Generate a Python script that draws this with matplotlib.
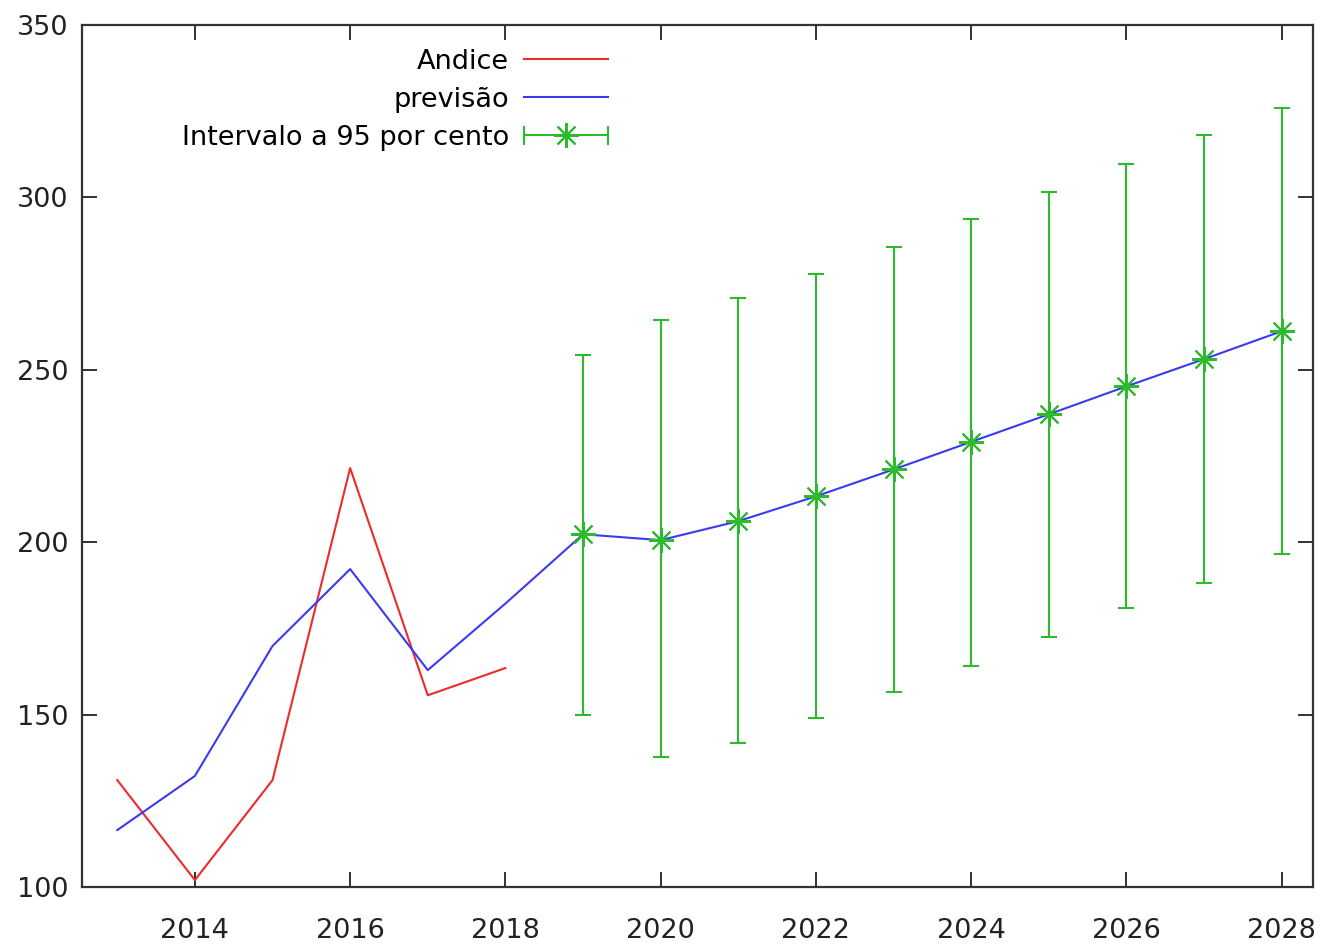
import matplotlib
matplotlib.use("Agg")
import matplotlib.pyplot as plt
import numpy as np
from matplotlib.lines import Line2D
from matplotlib.legend_handler import HandlerBase

years_obs = [2013, 2014, 2015, 2016, 2017, 2018]
andice = [131.0, 102.0, 131.0, 221.5, 155.6, 163.5]

years_prev = list(range(2013, 2029))
previsao = [116.5, 132.2, 169.9, 192.2, 162.9, 182.2, 202.3, 200.6,
            206.1, 213.3, 221.1, 229.1, 237.1, 245.2, 253.1, 261.2]

years_fc = list(range(2019, 2029))
fc_center = [202.3, 200.6, 206.1, 213.3, 221.1, 229.1, 237.1, 245.2, 253.1, 261.2]
fc_low = [149.9, 137.6, 141.7, 149.0, 156.5, 164.1, 172.5, 180.8, 188.2, 196.5]
fc_high = [254.2, 264.4, 270.8, 277.9, 285.6, 293.8, 301.5, 309.8, 318.0, 325.9]

xticks = list(range(2014, 2029, 2))
yticks = [100, 150, 200, 250, 300, 350]

plt.rcParams['font.family'] = ['DejaVu Sans']
fig = plt.figure(figsize=(13.26, 9.44), dpi=100)
ax = fig.add_axes([0.0618, 0.0604, 0.9282, 0.9131])

red = '#ee2a2a'
blue = '#3a3af0'
green = '#2dbb2d'
LW = 1.5
STAR = (8, 2, 0)

ax.plot(years_obs, andice, color=red, lw=LW)
ax.plot(years_prev, previsao, color=blue, lw=LW)
c = np.array(fc_center)
yerr = [c - np.array(fc_low), np.array(fc_high) - c]
ax.errorbar(years_fc, fc_center, yerr=yerr, fmt='none', ecolor=green,
            elinewidth=LW, capsize=6, capthick=LW)
ax.plot(years_fc, fc_center, linestyle='none', marker=STAR,
        markersize=18, markeredgewidth=1.5, color=green)

h1 = Line2D([], [], color=red, lw=LW)
h2 = Line2D([], [], color=blue, lw=LW)
mk = Line2D([], [], color=green, lw=LW)


class IntervalHandler(HandlerBase):
    def create_artists(self, legend, orig, xdescent, ydescent, width, height, fontsize, trans):
        y = height / 2 - ydescent
        x0, x1 = -xdescent, -xdescent + width
        line = Line2D([x0, x1], [y, y], color=green, lw=LW, transform=trans)
        cap1 = Line2D([x0, x0], [y - 6, y + 6], color=green, lw=LW, transform=trans)
        cap2 = Line2D([x1, x1], [y - 6, y + 6], color=green, lw=LW, transform=trans)
        star = Line2D([(x0 + x1) / 2], [y], marker=STAR, markersize=18,
                      markeredgewidth=1.5, color=green, transform=trans, linestyle='none')
        return [line, cap1, cap2, star]


leg = ax.legend([h1, h2, mk], ['Andice', 'previsão', 'Intervalo a 95 por cento'],
                handler_map={mk: IntervalHandler()},
                loc='upper right', bbox_to_anchor=(0.4405, 0.9915), frameon=False,
                markerfirst=False, fontsize=19.5, handlelength=3.1,
                handletextpad=0.55, labelspacing=0.45, borderaxespad=0.2)
for t in leg.get_texts():
    t.set_ha('right')
leg._legend_box.align = 'right'

ax.set_xlim(2012.545, 2028.4)
ax.set_ylim(100, 350)
ax.set_xticks(xticks)
ax.set_yticks(yticks)
ax.tick_params(direction='in', length=11, width=1.3, top=True, right=True,
               labelsize=19.5, colors='#222222')
ax.tick_params(axis='x', pad=22)
ax.tick_params(axis='y', pad=10)
for s in ax.spines.values():
    s.set_linewidth(1.6)
    s.set_color('#333333')

fig.savefig('out.png', dpi=100)
